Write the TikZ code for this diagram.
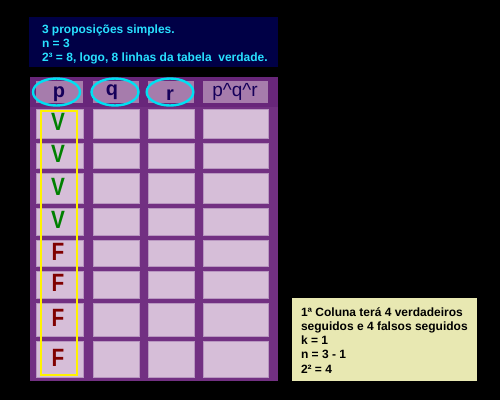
\documentclass[tikz,border=0pt]{standalone}
\usepackage{fontspec}
\setmainfont{Liberation Sans}
\newfontfamily\sansbold{Liberation Sans Bold}
\newfontfamily\narrowbold[FakeStretch=0.83]{Liberation Sans Bold}
\definecolor{topnavy}{RGB}{0,0,70}
\definecolor{topcyan}{RGB}{40,225,255}
\definecolor{tablepurple}{RGB}{114,48,130}
\definecolor{headband}{RGB}{104,38,122}
\definecolor{headfill}{RGB}{166,124,172}
\definecolor{cellfill}{RGB}{214,190,216}
\definecolor{cellline}{RGB}{184,150,192}
\definecolor{ringcyan}{RGB}{0,224,242}
\definecolor{headink}{RGB}{22,0,90}
\definecolor{vgreen}{RGB}{0,128,0}
\definecolor{fred}{RGB}{128,0,0}
\definecolor{notefill}{RGB}{232,232,178}
\begin{document}
\begin{tikzpicture}[x=1pt, y=-1pt, every node/.style={inner sep=0pt, outer sep=0pt},
		cell/.style={draw=cellline, fill=cellfill, line width=0.6pt},
		headcell/.style={fill=headfill},
		ring/.style={draw=ringcyan, line width=2.4pt},
		headtext/.style={text=headink, font=\sansbold\fontsize{20}{24}\selectfont, anchor=base},
		tvalue/.style={font=\narrowbold\fontsize{25}{30}\selectfont},
		topline/.style={text=topcyan, font=\sansbold\fontsize{12}{14}\selectfont, anchor=base west},
		noteline/.style={text=black, font=\sansbold\fontsize{12}{14}\selectfont, anchor=base west}]
			\fill[black] (0,0) rectangle (500,400);
			\useasboundingbox (0,0) rectangle (500,400);
		
			% caixa de cima
			\node[fill=topnavy, minimum width=249pt, minimum height=50pt] (topbox) at (153.5,42) {};
			\foreach \t [count=\k] in {3 proposições simples., n = 3, {2³ = 8, logo, 8 linhas da tabela~ verdade.}}
			{
				\node[topline] (top\k) at (42,{19+14*\k}) {\t};
			}
		
			% tabela
			\fill[tablepurple] (30,77) rectangle (278,381);
			\fill[headband] (30,77) rectangle (278,107);
			\foreach \cl/\cr [count=\j] in {36/83,93/139,148/194,203/268}
			{
				\node[headcell, minimum width={(\cr-\cl)*1pt}, minimum height=22pt] (h\j) at ({(\cl+\cr)/2},92) {};
				\foreach \rt/\rb [count=\i] in {109/138,143/168,173/203,208/235,240/266,271/298,303/336,341/377}
				{
					\node[cell, minimum width={(\cr-\cl)*1pt}, minimum height={(\rb-\rt)*1pt}] (c\i-\j) at ({(\cl+\cr)/2},{(\rt+\rb)/2}) {};
				}
			}
		
			% cabecalho
			\draw[ring] ([xshift=-3pt]h1.center) ellipse [x radius=23.5pt, y radius=13.5pt];
			\draw[ring] ([xshift=-1pt]h2.center) ellipse [x radius=23.5pt, y radius=13.5pt];
			\draw[ring] ([xshift=-1pt]h3.center) ellipse [x radius=23.3pt, y radius=13.5pt];
			\node[headtext] (tp) at (59,97) {p};
			\node[headtext] (tq) at (112,95.5) {q};
			\node[headtext] (tr) at (170,100) {r};
			\node[text=headink, font=\fontsize{19}{22}\selectfont, anchor=base] (tpqr) at (235,96) {p\^{}q\^{}r};
		
			% primeira coluna
			\foreach \i/\v/\c in {1/V/vgreen,2/V/vgreen,3/V/vgreen,4/V/vgreen,5/F/fred,6/F/fred,7/F/fred,8/F/fred}
			{
				\node[tvalue, text=\c] (v\i) at ([xshift=-1.5pt, yshift=1.5pt]c\i-1.center) {\v};
			}
			\draw[yellow, line width=2pt] ([xshift=4.5pt, yshift=-2pt]c1-1.north west) rectangle ([xshift=-6.5pt, yshift=2pt]c8-1.south east);
		
			% nota
			\node[draw=black, fill=notefill, minimum width=186pt, minimum height=84pt] (note) at (384,339) {};
			\foreach \t [count=\k] in {1ª Coluna terá 4 verdadeiros, seguidos e 4 falsos seguidos, k = 1, n = 3 - 1, 2² = 4}
			{
				\node[noteline] (note\k) at (301,{302.5+14.1*\k}) {\t};
			}
		
		\end{tikzpicture}
\end{document}
